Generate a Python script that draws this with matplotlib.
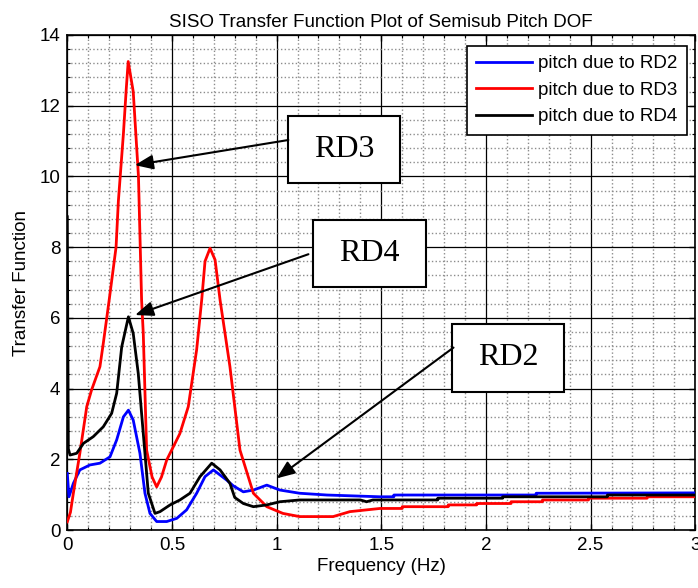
import matplotlib
matplotlib.use("Agg")
import matplotlib.pyplot as plt
from matplotlib.patches import Rectangle
from matplotlib.ticker import MultipleLocator

plt.rcParams['font.family'] = ['Liberation Sans', 'DejaVu Sans']

# ---- data ----
f_rd2 = [0.0, 0.008, 0.029, 0.06, 0.108, 0.156, 0.204, 0.236, 0.268, 0.292, 0.315,
         0.347, 0.371, 0.395, 0.427, 0.475, 0.523, 0.57, 0.618, 0.658, 0.698, 0.762,
         0.793, 0.841, 0.889, 0.953, 1.016, 1.11, 1.24, 1.494, 1.56, 1.56, 2.24, 2.24, 3.0]
v_rd2 = [1.6, 0.94, 1.32, 1.7, 1.84, 1.89, 2.07, 2.55, 3.2, 3.39, 3.11,
         2.17, 1.04, 0.47, 0.24, 0.24, 0.33, 0.57, 1.04, 1.51, 1.7, 1.41,
         1.25, 1.08, 1.13, 1.27, 1.13, 1.04, 0.99, 0.94, 0.94, 0.99, 0.99, 1.04, 1.05]

f_rd3 = [0.0, 0.015, 0.029, 0.06, 0.093, 0.116, 0.156, 0.172, 0.2, 0.233, 0.244, 0.268,
         0.282, 0.291, 0.315, 0.34, 0.355, 0.363, 0.379, 0.405, 0.427, 0.45, 0.475,
         0.538, 0.578, 0.618, 0.642, 0.658, 0.682, 0.706, 0.73, 0.777, 0.825, 0.889,
         0.953, 1.03, 1.11, 1.27, 1.35, 1.494, 1.6, 1.6, 1.82, 1.82, 1.956, 1.956,
         2.12, 2.12, 2.27, 2.27, 2.49, 2.49, 2.77, 2.77, 3.0]
v_rd3 = [0.23, 0.5, 1.04, 2.17, 3.49, 3.96, 4.62, 5.28, 6.5, 8.0, 9.3, 11.2,
         12.5, 13.25, 12.4, 10.0, 6.5, 5.56, 2.26, 1.5, 1.22, 1.5, 1.98,
         2.73, 3.49, 5.1, 6.5, 7.6, 7.97, 7.64, 6.5, 4.62, 2.26, 1.04,
         0.66, 0.47, 0.38, 0.38, 0.52, 0.61, 0.61, 0.66, 0.66, 0.71, 0.71, 0.75,
         0.75, 0.80, 0.80, 0.85, 0.85, 0.90, 0.90, 0.94, 0.94]

f_rd4 = [0.0, 0.005, 0.013, 0.045, 0.077, 0.124, 0.172, 0.212, 0.236, 0.26, 0.292,
         0.315, 0.339, 0.363, 0.387, 0.419, 0.443, 0.491, 0.538, 0.586, 0.634, 0.69,
         0.73, 0.777, 0.80, 0.841, 0.889, 0.953, 1.016, 1.11, 1.27, 1.40, 1.43, 1.46,
         1.77, 1.77, 2.08, 2.08, 2.58, 2.58, 3.0]
v_rd4 = [8.86, 2.3, 2.12, 2.17, 2.45, 2.64, 2.92, 3.3, 3.87, 5.18, 6.03,
         5.56, 4.43, 2.73, 1.04, 0.47, 0.52, 0.71, 0.85, 1.04, 1.51, 1.89,
         1.7, 1.32, 0.92, 0.75, 0.66, 0.71, 0.80, 0.85, 0.85, 0.85, 0.80, 0.85,
         0.85, 0.90, 0.90, 0.94, 0.94, 0.99, 0.99]

series_labels = ['pitch due to RD2', 'pitch due to RD3', 'pitch due to RD4']
x_ticks = [0, 0.5, 1, 1.5, 2, 2.5, 3]
x_tick_labels = ['0', '0.5', '1', '1.5', '2', '2.5', '3']
y_ticks = [0, 2, 4, 6, 8, 10, 12, 14]

# annotations: label, box (x0, x1, y0, y1), arrow tail, arrow tip
annotations = [
    ('RD3', (1.056, 1.590, 9.80, 11.71), (1.056, 11.03), (0.323, 10.32)),
    ('RD4', (1.175, 1.714, 6.86, 8.77), (1.152, 7.80), (0.324, 6.08)),
    ('RD2', (1.837, 2.375, 3.91, 5.83), (1.845, 5.16), (1.0, 1.46)),
]

fig = plt.figure(figsize=(6.98, 5.88), dpi=100)
ax = fig.add_axes([0.0964, 0.0986, 0.8997, 0.8419])

FS = 13.5
lw = 2.0
ax.plot(f_rd2, v_rd2, color='#0000ff', lw=lw, label=series_labels[0], zorder=3)
ax.plot(f_rd3, v_rd3, color='#ff0000', lw=lw, label=series_labels[1], zorder=3)
ax.plot(f_rd4, v_rd4, color='#000000', lw=lw, label=series_labels[2], zorder=3)

ax.set_xlim(0, 3)
ax.set_ylim(0, 14)
ax.set_xticks(x_ticks)
ax.set_xticklabels(x_tick_labels)
ax.set_yticks(y_ticks)
ax.xaxis.set_minor_locator(MultipleLocator(0.1))
ax.yaxis.set_minor_locator(MultipleLocator(0.4))
ax.grid(which='minor', color='0.55', linestyle=':', lw=1.0, zorder=0)
ax.grid(which='major', color='black', linestyle='-', lw=0.9, zorder=1)
ax.set_axisbelow(True)
ax.tick_params(which='both', direction='in', top=True, right=True, labelsize=FS)
ax.tick_params(which='major', length=4, width=1, pad=5)
ax.tick_params(which='minor', length=2, width=0.8)
for s in ax.spines.values():
    s.set_linewidth(1.2)

ax.set_title('SISO Transfer Function Plot of Semisub Pitch DOF', fontsize=FS, pad=6)
ax.set_xlabel('Frequency (Hz)', fontsize=FS, labelpad=3)
ax.set_ylabel('Transfer Function', fontsize=FS, labelpad=7)

leg = ax.legend(loc='upper right', bbox_to_anchor=(0.9863, 0.9784), borderaxespad=0,
                fontsize=FS, handlelength=3.0, handletextpad=0.3, labelspacing=0.5,
                fancybox=False, framealpha=1, edgecolor='black', borderpad=0.5)
leg.get_frame().set_linewidth(1.2)
leg.set_zorder(10)

for label, (x0, x1, y0, y1), tail, tip in annotations:
    ax.add_patch(Rectangle((x0, y0), x1 - x0, y1 - y0, facecolor='white',
                           edgecolor='black', lw=1.5, zorder=6))
    ax.text((x0 + x1) / 2, (y0 + y1) / 2, label, ha='center', va='center',
            fontsize=23, family=['Liberation Serif', 'DejaVu Serif'], zorder=7)
    ax.annotate('', xy=tip, xytext=tail,
                arrowprops=dict(arrowstyle='-|>,head_length=0.55,head_width=0.22',
                                mutation_scale=20, color='black', lw=1.5,
                                shrinkA=0, shrinkB=0), zorder=8)

fig.savefig('out.png', dpi=100)
